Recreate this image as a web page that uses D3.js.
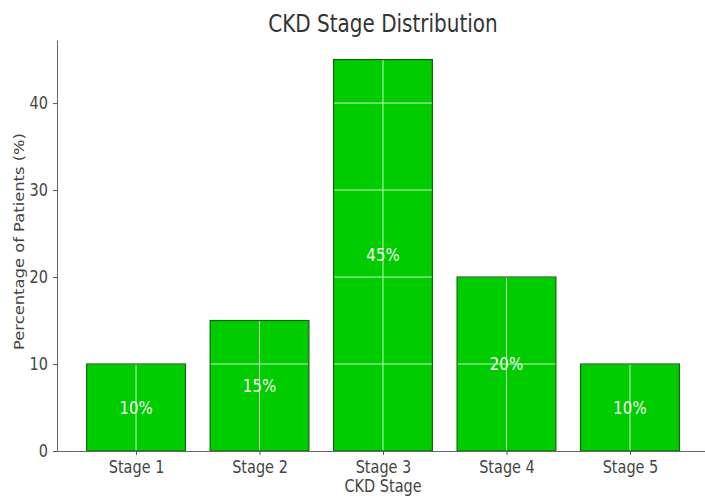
<!DOCTYPE html>
<meta charset="utf-8">
<html>
<head>
<title>CKD Stage Distribution</title>
<style>
  body { margin: 0; background: #fff; }
  text { font-family: "DejaVu Sans", sans-serif; }
  .tick text { fill: #444; font-size: 14.5px; }
  .tick line { stroke: #555; }
  .domain { stroke: #666; }
</style>
<script src="https://d3js.org/d3.v7.min.js"></script>
</head>
<body>
<svg width="705" height="496"></svg>
<script>
  var stages = ["Stage 1", "Stage 2", "Stage 3", "Stage 4", "Stage 5"];
  var percents = [10, 15, 45, 20, 10];
  var yTicks = [0, 10, 20, 30, 40];

  var svg = d3.select("svg");
  var plotLeft = 57, plotRight = 709, plotTop = 40, plotBottom = 451;
  var stretch = 1.2; // the picture is a bit taller than wide

  // matplotlib style limits: bars width 0.8, 5% margins
  var x = d3.scaleLinear().domain([-0.64, 4.64]).range([plotLeft, plotRight]);
  var y = d3.scaleLinear().domain([0, 47.25]).range([plotBottom, plotTop]);
  var bw = x(0.8) - x(0);

  // bars
  svg.append("g").selectAll("rect")
      .data(percents)
      .enter().append("rect")
        .attr("x", function (d, i) { return x(i) - bw / 2; })
        .attr("y", function (d) { return y(d); })
        .attr("width", bw)
        .attr("height", function (d) { return y(0) - y(d); })
        .attr("fill", "#00cc00");

  // white grid over the bars
  var grid = svg.append("g").attr("stroke", "#ffffff").attr("stroke-width", 1).attr("opacity", 0.75);
  grid.selectAll(".h").data(yTicks.slice(1)).enter().append("line")
      .attr("x1", plotLeft).attr("x2", plotRight)
      .attr("y1", function (d) { return y(d); })
      .attr("y2", function (d) { return y(d); });
  grid.selectAll(".v").data(stages).enter().append("line")
      .attr("x1", function (d, i) { return x(i); })
      .attr("x2", function (d, i) { return x(i); })
      .attr("y1", plotTop).attr("y2", plotBottom);

  // bar outlines
  svg.append("g").selectAll("rect")
      .data(percents)
      .enter().append("rect")
        .attr("x", function (d, i) { return x(i) - bw / 2; })
        .attr("y", function (d) { return y(d); })
        .attr("width", bw)
        .attr("height", function (d) { return y(0) - y(d); })
        .attr("fill", "none")
        .attr("stroke", "#0a6a0a")
        .attr("stroke-width", 1.2);

  // value labels
  svg.append("g").selectAll("text")
      .data(percents)
      .enter().append("text")
        .attr("transform", function (d, i) {
          return "translate(" + x(i) + "," + (y(d / 2) + 6) + ") scale(1," + stretch + ")";
        })
        .attr("text-anchor", "middle")
        .attr("fill", "#f4fff4")
        .attr("font-size", 15)
        .text(function (d) { return d + "%"; });

  // axes
  svg.append("g")
      .attr("transform", "translate(" + plotLeft + ",0)")
      .call(d3.axisLeft(y).tickValues(yTicks).tickSize(4).tickPadding(5).tickSizeOuter(0))
      .selectAll(".tick text")
        .attr("dy", "0.3em")
        .attr("transform", "scale(1," + stretch + ")")
        .attr("y", 0);
  svg.append("g")
      .attr("transform", "translate(0," + plotBottom + ")")
      .call(d3.axisBottom(x).tickValues(d3.range(stages.length))
        .tickFormat(function (i) { return stages[i]; })
        .tickSize(4).tickPadding(4).tickSizeOuter(0))
      .selectAll(".tick text")
        .attr("transform", "scale(1," + stretch + ")");

  // titles
  svg.append("text")
      .attr("transform", "translate(" + (plotLeft + plotRight) / 2 + ",32) scale(1," + stretch + ")")
      .attr("text-anchor", "middle")
      .attr("font-size", 20)
      .attr("fill", "#333")
      .text("CKD Stage Distribution");
  svg.append("text")
      .attr("transform", "translate(" + (plotLeft + plotRight) / 2 + ",492) scale(1," + stretch + ")")
      .attr("text-anchor", "middle")
      .attr("font-size", 14.5)
      .attr("fill", "#444")
      .text("CKD Stage");
  svg.append("text")
      .attr("transform", "translate(24," + (133 + 350) / 2 + ") rotate(-90)")
      .attr("text-anchor", "middle")
      .attr("font-size", 14)
      .attr("textLength", 217)
      .attr("lengthAdjust", "spacingAndGlyphs")
      .attr("fill", "#444")
      .text("Percentage of Patients (%)");
</script>
</body>
</html>
